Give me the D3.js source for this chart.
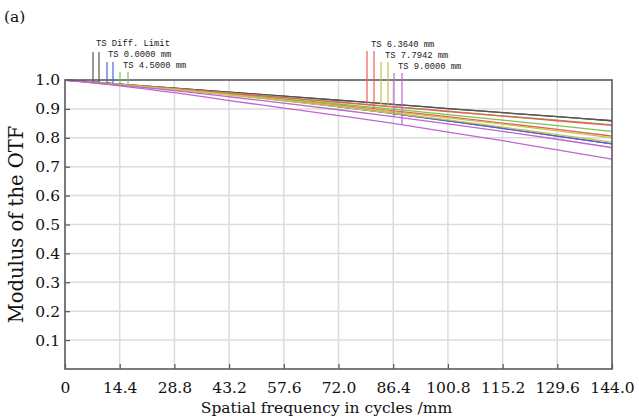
<!DOCTYPE html>
<html>
<head>
<meta charset="utf-8">
<script src="https://cdn.jsdelivr.net/npm/d3@7"></script>
<style>
  body { margin: 0; background: #fff; }
  svg { display: block; }
</style>
</head>
<body>
<div id="chart"></div>
<script>
const freqs = [0, 14.4, 28.8, 43.2, 57.6, 72.0, 86.4, 100.8, 115.2, 129.6, 144.0];
const xTickLabels = ["0", "14.4", "28.8", "43.2", "57.6", "72.0", "86.4", "100.8", "115.2", "129.6", "144.0"];
const yTicks = [0.1, 0.2, 0.3, 0.4, 0.5, 0.6, 0.7, 0.8, 0.9, 1.0];

const diffLimit = [1, 0.986, 0.972, 0.958, 0.944, 0.930, 0.916, 0.901, 0.887, 0.873, 0.859];
const field0T = [1, 0.985, 0.968, 0.950, 0.930, 0.908, 0.884, 0.859, 0.833, 0.806, 0.779];
const field0S = [1, 0.985, 0.968, 0.950, 0.930, 0.908, 0.884, 0.859, 0.833, 0.806, 0.779];
const field1T = [1, 0.985, 0.970, 0.955, 0.940, 0.924, 0.908, 0.892, 0.876, 0.861, 0.845];
const field1S = [1, 0.985, 0.969, 0.952, 0.935, 0.917, 0.899, 0.880, 0.861, 0.842, 0.822];
const field2T = [1, 0.985, 0.970, 0.954, 0.939, 0.923, 0.907, 0.891, 0.875, 0.859, 0.843];
const field2S = [1, 0.985, 0.968, 0.950, 0.932, 0.913, 0.893, 0.873, 0.851, 0.829, 0.806];
const field3T = [1, 0.985, 0.968, 0.950, 0.931, 0.911, 0.890, 0.869, 0.847, 0.824, 0.800];
const field3S = [1, 0.984, 0.967, 0.948, 0.928, 0.907, 0.885, 0.862, 0.837, 0.811, 0.785];
const field4T = [1, 0.982, 0.963, 0.942, 0.920, 0.897, 0.873, 0.848, 0.822, 0.795, 0.766];
const field4S = [1, 0.980, 0.956, 0.929, 0.903, 0.877, 0.850, 0.820, 0.790, 0.758, 0.726];

const fieldNames = ["TS Diff. Limit", "TS 0.0000 mm", "TS 4.5000 mm", "TS 6.3640 mm", "TS 7.7942 mm", "TS 9.0000 mm"];
const fieldColors = ["#555555", "#4f5fdc", "#72c850", "#f05a5a", "#c4c44c", "#bf68cc"];
const fieldSeries = [
  [diffLimit, diffLimit],
  [field0T, field0S],
  [field1T, field1S],
  [field2T, field2S],
  [field3T, field3S],
  [field4T, field4S]
];

const width = 639, height = 419;
const margin = { top: 80, right: 27, bottom: 50, left: 65 };

const svg = d3.select("#chart").append("svg")
  .attr("width", width)
  .attr("height", height);

const x = d3.scaleLinear().domain([0, 144]).range([margin.left, width - margin.right]);
const y = d3.scaleLinear().domain([0, 1]).range([height - margin.bottom, margin.top]);

// grid
svg.append("g")
  .selectAll("line")
  .data(freqs.slice(1, -1))
  .enter().append("line")
  .attr("x1", d => x(d)).attr("x2", d => x(d))
  .attr("y1", y(0)).attr("y2", y(1))
  .attr("stroke", "#dcdcdc").attr("stroke-width", 1.5);

svg.append("g")
  .selectAll("line")
  .data(yTicks.slice(0, -1))
  .enter().append("line")
  .attr("x1", x(0)).attr("x2", x(144))
  .attr("y1", d => y(d)).attr("y2", d => y(d))
  .attr("stroke", "#dcdcdc").attr("stroke-width", 1.5);

// axes with inward ticks
const xAxis = d3.axisBottom(x)
  .tickValues(freqs)
  .tickFormat((d, i) => xTickLabels[i])
  .tickSizeInner(-5).tickSizeOuter(0).tickPadding(13);
const yAxis = d3.axisLeft(y)
  .tickValues(yTicks)
  .tickFormat(d3.format(".1f"))
  .tickSizeInner(-5).tickSizeOuter(0).tickPadding(5);

const gx = svg.append("g").attr("transform", `translate(0,${y(0)})`).call(xAxis);
const gy = svg.append("g").attr("transform", `translate(${x(0)},0)`).call(yAxis);
[gx, gy].forEach(g => {
  g.select(".domain").remove();
  g.selectAll(".tick line").attr("stroke", "#555").attr("stroke-width", 1.2);
  g.selectAll(".tick text")
    .attr("fill", "#111")
    .style("font-family", "DejaVu Serif")
    .style("font-size", "15.5px");
});

// curves
const line = d3.line()
  .x((d, i) => x(freqs[i]))
  .y(d => y(d))
  .curve(d3.curveMonotoneX);

svg.append("clipPath").attr("id", "plot")
  .append("rect")
  .attr("x", x(0)).attr("y", y(1) - 2)
  .attr("width", x(144) - x(0)).attr("height", y(0) - y(1) + 2);

const curves = svg.append("g").attr("clip-path", "url(#plot)");
fieldSeries.forEach((pair, fi) => {
  pair.forEach(vals => {
    curves.append("path")
      .datum(vals)
      .attr("d", line)
      .attr("fill", "none")
      .attr("stroke", fieldColors[fi])
      .attr("stroke-width", 1.3);
  });
});

// frame
svg.append("rect")
  .attr("x", x(0)).attr("y", y(1))
  .attr("width", x(144) - x(0)).attr("height", y(0) - y(1))
  .attr("fill", "none")
  .attr("stroke", "#5a5a5a")
  .attr("stroke-width", 1.6);

// legend: pairs of vertical markers dropping onto the curves
const interp = (vals, f) => {
  const i = Math.min(Math.floor(f / 14.4), vals.length - 2);
  const t = (f - freqs[i]) / (freqs[i + 1] - freqs[i]);
  return vals[i] + (vals[i + 1] - vals[i]) * t;
};

const legendPos = [
  { lx: [93, 99], top: 52, tx: 96, ty: 46 },
  { lx: [107, 113], top: 62, tx: 108, ty: 57 },
  { lx: [120, 128], top: 72, tx: 123, ty: 68 },
  { lx: [367, 374], top: 51, tx: 371, ty: 47 },
  { lx: [381, 388], top: 62, tx: 385, ty: 58 },
  { lx: [394, 402], top: 73, tx: 398, ty: 69 }
];

const legend = svg.append("g");
fieldNames.forEach((name, fi) => {
  const p = legendPos[fi];
  p.lx.forEach((px, k) => {
    const f = x.invert(px);
    legend.append("line")
      .attr("x1", px).attr("x2", px)
      .attr("y1", p.top)
      .attr("y2", y(interp(fieldSeries[fi][k], f)))
      .attr("stroke", fieldColors[fi])
      .attr("stroke-width", 1.2);
  });
  legend.append("text")
    .attr("x", p.tx).attr("y", p.ty)
    .attr("fill", "#222")
    .style("font-family", "Liberation Mono")
    .style("font-size", "8.8px")
    .text(name);
});

// titles
svg.append("text")
  .attr("x", (x(0) + x(144)) / 2 - 12)
  .attr("y", 413)
  .attr("text-anchor", "middle")
  .attr("fill", "#111")
  .style("font-family", "DejaVu Serif")
  .style("font-size", "15.5px")
  .text("Spatial frequency in cycles /mm");

svg.append("text")
  .attr("transform", `translate(23,${(y(0) + y(1)) / 2}) rotate(-90)`)
  .attr("text-anchor", "middle")
  .attr("fill", "#111")
  .style("font-family", "DejaVu Serif")
  .style("font-size", "19.5px")
  .text("Modulus of the OTF");

svg.append("text")
  .attr("x", 4).attr("y", 22)
  .attr("fill", "#111")
  .style("font-family", "DejaVu Serif")
  .style("font-size", "15.5px")
  .text("(a)");
</script>
</body>
</html>
